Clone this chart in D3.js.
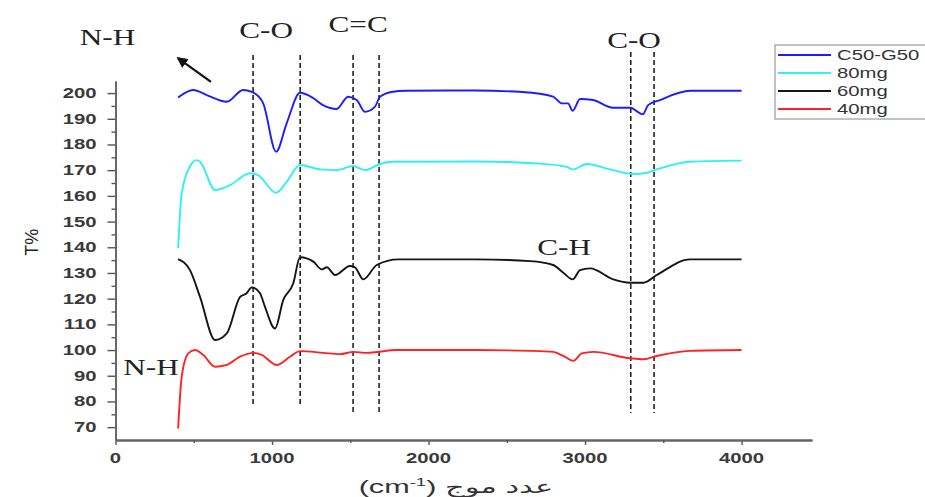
<!DOCTYPE html>
<html>
<head>
<meta charset="utf-8">
<script src="https://cdn.jsdelivr.net/npm/d3@7"></script>
<style>
  body { margin: 0; background: #fff; }
  svg { display: block; }
</style>
</head>
<body>
<div id="chart"></div>
<script>
//Series names and colors (legend order)
const seriesNames = ["C50-G50", "80mg", "60mg", "40mg"];
const seriesColors = ["#1c1cff", "#2ef0f5", "#151515", "#ff2222"];

//Spectra: [wavenumber, T%]
const c50g50 = [[400,198.3],[497,201.2],[583,199.2],[711,196.6],[815,201.2],[870,200.5],[943,196.1],[1026,177.2],[1094,188.3],[1179,200.1],[1262,198.1],[1326,195.3],[1413,193.8],[1486,198.6],[1541,197.3],[1594,192.7],[1658,194.7],[1690,198.6],[1773,200.5],[1850,200.9],[2300,201.0],[2600,200.4],[2796,198.6],[2851,196.0],[2891,196.0],[2921,193.1],[2968,197.7],[3051,197.3],[3179,194.3],[3288,194.3],[3369,191.8],[3403,195.3],[3479,197.3],[3671,200.9],[4000,200.9]];
const mg80 = [[400,139.6],[423,161.0],[476,171.5],[519,173.9],[540,173.3],[636,162.3],[732,164.2],[859,168.8],[911,168.1],[1026,161.2],[1094,165.5],[1179,172.0],[1307,170.3],[1413,170.0],[1518,171.6],[1594,170.0],[1690,172.4],[1773,173.3],[2300,173.4],[2700,172.6],[2883,171.3],[2923,170.3],[3011,172.4],[3160,170.3],[3307,168.5],[3394,169.0],[3458,170.3],[3671,173.3],[4000,173.7]];
const mg60 = [[400,135.4],[476,131.1],[540,120.7],[636,103.9],[711,106.5],[796,120.7],[838,122.1],[870,124.4],[923,122.1],[955,116.8],[1019,108.4],[1072,119.5],[1136,126.0],[1179,136.1],[1264,134.4],[1318,131.4],[1350,132.2],[1403,129.2],[1498,132.7],[1530,132.2],[1583,127.5],[1669,133.1],[1807,135.3],[2300,135.3],[2650,134.6],[2796,133.1],[2861,130.1],[2921,127.5],[2968,131.1],[3032,131.8],[3181,127.5],[3288,126.2],[3373,126.2],[3458,129.2],[3671,135.3],[4000,135.3]];
const mg40 = [[400,69.5],[423,89.6],[465,98.7],[508,100.0],[561,98.1],[636,93.5],[711,94.2],[796,97.4],[881,98.9],[934,98.1],[1030,94.2],[1115,97.4],[1179,99.6],[1328,98.9],[1435,98.4],[1520,99.3],[1605,98.9],[1797,100.0],[2300,100.0],[2650,99.7],[2796,99.3],[2861,97.7],[2925,95.8],[2979,98.7],[3053,99.3],[3288,96.8],[3373,96.4],[3458,97.7],[3671,99.7],[4000,100.0]];
const seriesData = [c50g50, mg80, mg60, mg40];

//Tick values
const xTicks = [0, 1000, 2000, 3000, 4000];
const xMinorTicks = [500, 1500, 2500, 3500];
const yTicks = [70, 80, 90, 100, 110, 120, 130, 140, 150, 160, 170, 180, 190, 200];
const yMinorTicks = [75, 85, 95, 105, 115, 125, 135, 145, 155, 165, 175, 185, 195];

//Dashed marker lines: [wavenumber, top T, bottom T]
const markerLines = [[879, 214.8, 78.6], [1180, 214.8, 77.8], [1518, 214.8, 75.5], [1684, 214.8, 75.5], [3292, 216, 75.5], [3441, 216, 75.5]];

//Band labels: [text, wavenumber, T]
const bandLabels = [["N-H", -51, 218.7], ["C-O", 962, 221.4], ["C=C", 1550, 223.7], ["C-O", 3313, 217.5], ["C-H", 2866, 137.0], ["N-H", 227, 90.3]];
//Arrow: [tail, head] as [wavenumber, T]
const arrowPts = [[610, 204.4], [401, 213.5]];

const width = 925;
const height = 497;
//the original picture is stretched sideways, so text gets widened too
const stretch = 1.45;

const svg = d3.select("#chart").append("svg").attr("width", width).attr("height", height);

//Scales
const xscale = d3.scaleLinear().domain([0, 4450]).range([115.5, 812]);
const yscale = d3.scaleLinear().domain([65, 204.7]).range([440, 81]);

const axisFont = "'Liberation Sans', Arial, 'DejaVu Sans', sans-serif";

//Axes (labels are drawn separately so they can be widened)
const xAxis = d3.axisBottom(xscale).tickValues(xTicks).tickFormat("").tickSizeInner(5).tickSizeOuter(0);
const xAxisMinor = d3.axisBottom(xscale).tickValues(xMinorTicks).tickFormat("").tickSizeInner(3).tickSizeOuter(0);
const yAxis = d3.axisLeft(yscale).tickValues(yTicks).tickFormat("").tickSizeInner(8).tickSizeOuter(0);
const yAxisMinor = d3.axisLeft(yscale).tickValues(yMinorTicks).tickFormat("").tickSizeInner(4).tickSizeOuter(0);

svg.append("g").attr("transform", `translate(0, ${yscale(65)})`).call(xAxis);
svg.append("g").attr("transform", `translate(0, ${yscale(65)})`).call(xAxisMinor);
svg.append("g").attr("transform", `translate(${xscale(0)}, 0)`).call(yAxis);
svg.append("g").attr("transform", `translate(${xscale(0)}, 0)`).call(yAxisMinor);

svg.selectAll(".domain").attr("stroke", "#666").attr("stroke-width", 1.8);
svg.selectAll(".tick line").attr("stroke", "#555").attr("stroke-width", 1.4);

//Tick labels
svg.selectAll(".xlabel").data(xTicks).enter().append("text")
    .attr("transform", d => `translate(${xscale(d)}, ${yscale(65) + 23}) scale(${stretch},1)`)
    .attr("text-anchor", "middle")
    .style("font-family", axisFont).style("font-size", "14px").style("font-weight", "bold").attr("fill", "#3a3a3a")
    .text(d => d);
svg.selectAll(".ylabel").data(yTicks).enter().append("text")
    .attr("transform", d => `translate(${xscale(0) - 19}, ${yscale(d) + 5}) scale(${stretch},1)`)
    .attr("text-anchor", "end")
    .style("font-family", axisFont).style("font-size", "14px").style("font-weight", "bold").attr("fill", "#3a3a3a")
    .text(d => d);

//Dashed marker lines
svg.selectAll(".marker").data(markerLines).enter().append("line")
    .attr("x1", d => xscale(d[0])).attr("x2", d => xscale(d[0]))
    .attr("y1", d => yscale(d[1])).attr("y2", d => yscale(d[2]))
    .attr("stroke", "#222").attr("stroke-width", 1.6).attr("stroke-dasharray", "5,3");

//Spectra
const line = d3.line().x(d => xscale(d[0])).y(d => yscale(d[1])).curve(d3.curveMonotoneX);
svg.selectAll(".spectrum").data(seriesData).enter().append("path")
    .attr("d", line)
    .attr("fill", "none")
    .attr("stroke", (d, i) => seriesColors[i])
    .attr("stroke-width", 1.9)
    .attr("stroke-linejoin", "round");

//Band labels
svg.selectAll(".band").data(bandLabels).enter().append("text")
    .attr("transform", d => `translate(${xscale(d[1])}, ${yscale(d[2])}) scale(1.3,1)`)
    .attr("text-anchor", "middle")
    .style("font-family", "'Liberation Serif', 'Times New Roman', serif")
    .style("font-size", "24px")
    .attr("fill", "#222")
    .text(d => d[0]);

//Arrow
svg.append("defs").append("marker")
    .attr("id", "arrowhead").attr("viewBox", "0 0 10 10").attr("refX", 8).attr("refY", 5)
    .attr("markerWidth", 5).attr("markerHeight", 5).attr("orient", "auto")
    .append("path").attr("d", "M0,0 L10,5 L0,10 Z").attr("fill", "#111");
svg.append("line")
    .attr("x1", xscale(arrowPts[0][0])).attr("y1", yscale(arrowPts[0][1]))
    .attr("x2", xscale(arrowPts[1][0])).attr("y2", yscale(arrowPts[1][1]))
    .attr("stroke", "#111").attr("stroke-width", 2.2).attr("marker-end", "url(#arrowhead)");

//Axis titles
svg.append("text")
    .attr("transform", `translate(38, ${yscale(142)}) rotate(-90)`)
    .attr("text-anchor", "middle")
    .style("font-family", axisFont).style("font-size", "18px").attr("fill", "#222")
    .text("T%");

const xTitle = svg.append("text")
    .attr("transform", `translate(456, 493) scale(1.7,1)`)
    .attr("text-anchor", "middle")
    .style("font-family", axisFont).style("font-size", "18px").attr("fill", "#333");
xTitle.append("tspan").text("(cm");
xTitle.append("tspan").attr("dy", -7).style("font-size", "11px").text("-1");
xTitle.append("tspan").attr("dy", 7).text(") عدد موج");

//Legend
const legend = svg.append("g").attr("transform", "translate(775, 45)");
legend.append("rect").attr("width", 160).attr("height", 74)
    .attr("fill", "#fff").attr("stroke", "#999").attr("stroke-width", 1.2);
const legendItems = legend.selectAll(".item").data(seriesNames).enter().append("g")
    .attr("transform", (d, i) => `translate(0, ${10 + i * 18})`);
legendItems.append("line").attr("x1", 3).attr("x2", 56).attr("y1", 0).attr("y2", 0)
    .attr("stroke", (d, i) => seriesColors[i]).attr("stroke-width", 2.2);
legendItems.append("text").attr("transform", `translate(62, 5) scale(${stretch},1)`)
    .style("font-family", axisFont).style("font-size", "14px").attr("fill", "#333")
    .text(d => d);
</script>
</body>
</html>
